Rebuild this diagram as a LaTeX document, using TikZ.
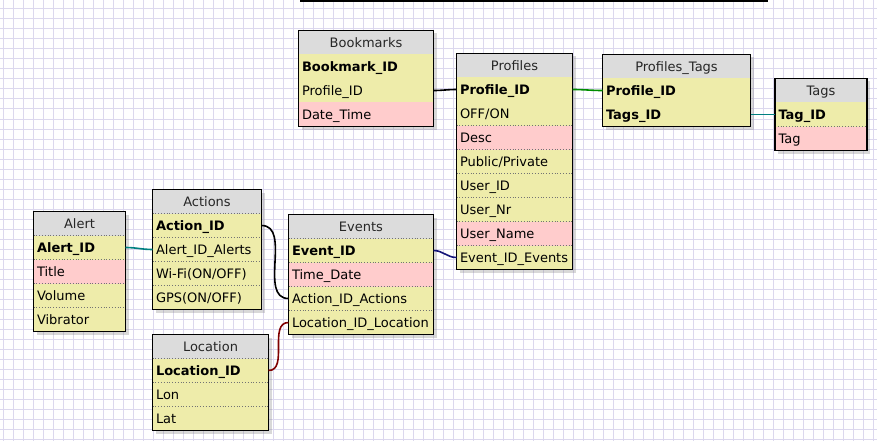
\documentclass[tikz,border=0pt]{standalone}
\usepackage{fontspec}
\setmainfont{DejaVu Sans}
\usetikzlibrary{shadows}

\definecolor{headgray}{RGB}{220,220,220}
\definecolor{fieldyellow}{RGB}{238,236,170}
\definecolor{optpink}{RGB}{255,204,204}
\definecolor{gridlav}{RGB}{220,216,238}
\definecolor{linkgreen}{RGB}{0,140,0}
\definecolor{linkteal}{RGB}{0,128,128}
\definecolor{linknavy}{RGB}{20,20,120}
\definecolor{linkred}{RGB}{128,0,0}

\tikzset{
  gridline/.style={draw=gridlav, line width=1pt},
  tblframe/.style={anchor=north west, inner sep=0pt, outer sep=0pt, fill=white,
    drop shadow={shadow xshift=3pt, shadow yshift=-3pt, opacity=0.3}},
  tblsep/.style={draw=black!55, dotted, line width=0.8pt},
  tblcell/.style={anchor=north west, minimum height=24pt, inner xsep=3.5pt, inner ysep=0pt,
    outer sep=0pt, text height=9.5pt, text depth=0pt, align=left,
    font=\fontsize{13pt}{15pt}\selectfont,
    append after command={(\tikzlastnode.south west) edge[tblsep] (\tikzlastnode.south east)}},
  tblhead/.style={tblcell, fill=headgray, align=center, text=black!85},
  tblkey/.style={tblcell, fill=fieldyellow, font=\fontsize{13pt}{15pt}\selectfont\bfseries},
  tblfield/.style={tblcell, fill=fieldyellow},
  tblopt/.style={tblcell, fill=optpink},
  tblborder/.style={draw=black, line width=1.3pt},
}

\begin{document}
\begin{tikzpicture}[x=1pt, y=-1pt]

\useasboundingbox (0,0) rectangle (877,441);
\fill[white] (0,0) rectangle (877,441);
\foreach \x in {3,13,...,873} \draw[gridline] (\x,0) -- (\x,441);
\foreach \y in {9,19,...,439} \draw[gridline] (0,\y) -- (877,\y);

\draw[line width=1.6pt] (300,0.8) -- (768,0.8);

% Bookmarks
\begin{scope}[every node/.append style={text width=128pt}]
  \node[tblframe, minimum width=135pt, minimum height=96pt] (bm) at (298.5,30.5) {};
  \node[tblhead]  (bm-h)   at (bm.north west)     {Bookmarks};
  \node[tblkey]   (bm-id)  at (bm-h.south west)   {Bookmark\_ID};
  \node[tblfield] (bm-pid) at (bm-id.south west)  {Profile\_ID};
  \node[tblopt]   (bm-dt)  at (bm-pid.south west) {Date\_Time};
\end{scope}

% Profiles
\begin{scope}[every node/.append style={text width=109pt}]
  \node[tblframe, minimum width=116pt, minimum height=216pt] (pr) at (456.5,53.5) {};
  \node[tblhead]  (pr-h)   at (pr.north west)     {Profiles};
  \node[tblkey]   (pr-id)  at (pr-h.south west)   {Profile\_ID};
  \node[tblfield] (pr-on)  at (pr-id.south west)  {OFF/ON};
  \node[tblopt]   (pr-ds)  at (pr-on.south west)  {Desc};
  \node[tblfield] (pr-pp)  at (pr-ds.south west)  {Public/Private};
  \node[tblfield] (pr-uid) at (pr-pp.south west)  {User\_ID};
  \node[tblfield] (pr-unr) at (pr-uid.south west) {User\_Nr};
  \node[tblopt]   (pr-unm) at (pr-unr.south west) {User\_Name};
  \node[tblfield] (pr-eid) at (pr-unm.south west) {Event\_ID\_Events};
\end{scope}

% Profiles_Tags
\begin{scope}[every node/.append style={text width=141pt}]
  \node[tblframe, minimum width=148pt, minimum height=72pt] (pt) at (602.5,54.5) {};
  \node[tblhead] (pt-h)   at (pt.north west)     {Profiles\_Tags};
  \node[tblkey]  (pt-pid) at (pt-h.south west)   {Profile\_ID};
  \node[tblkey]  (pt-tid) at (pt-pid.south west) {Tags\_ID};
\end{scope}

% Tags
\begin{scope}[every node/.append style={text width=85pt}]
  \node[tblframe, minimum width=92pt, minimum height=72pt] (tg) at (775,78.5) {};
  \node[tblhead] (tg-h)  at (tg.north west)    {Tags};
  \node[tblkey]  (tg-id) at (tg-h.south west)  {Tag\_ID};
  \node[tblopt]  (tg-tg) at (tg-id.south west) {Tag};
\end{scope}

% Alert
\begin{scope}[every node/.append style={text width=85pt}]
  \node[tblframe, minimum width=92pt, minimum height=120pt] (al) at (33.5,211.5) {};
  \node[tblhead]  (al-h)  at (al.north west)    {Alert};
  \node[tblkey]   (al-id) at (al-h.south west)  {Alert\_ID};
  \node[tblopt]   (al-tt) at (al-id.south west) {Title};
  \node[tblfield] (al-vl) at (al-tt.south west) {Volume};
  \node[tblfield] (al-vb) at (al-vl.south west) {Vibrator};
\end{scope}

% Actions
\begin{scope}[every node/.append style={text width=102pt}]
  \node[tblframe, minimum width=109pt, minimum height=120pt] (ac) at (152.5,189.5) {};
  \node[tblhead]  (ac-h)   at (ac.north west)     {Actions};
  \node[tblkey]   (ac-id)  at (ac-h.south west)   {Action\_ID};
  \node[tblfield] (ac-aid) at (ac-id.south west)  {Alert\_ID\_Alerts};
  \node[tblfield] (ac-wf)  at (ac-aid.south west) {Wi-Fi(ON/OFF)};
  \node[tblfield] (ac-gps) at (ac-wf.south west)  {GPS(ON/OFF)};
\end{scope}

% Events
\begin{scope}[every node/.append style={text width=138pt}]
  \node[tblframe, minimum width=145pt, minimum height=120pt] (ev) at (288.5,214.5) {};
  \node[tblhead]  (ev-h)   at (ev.north west)     {Events};
  \node[tblkey]   (ev-id)  at (ev-h.south west)   {Event\_ID};
  \node[tblopt]   (ev-td)  at (ev-id.south west)  {Time\_Date};
  \node[tblfield] (ev-aid) at (ev-td.south west)  {Action\_ID\_Actions};
  \node[tblfield] (ev-lid) at (ev-aid.south west) {Location\_ID\_Location};
\end{scope}

% Location
\begin{scope}[every node/.append style={text width=109pt}]
  \node[tblframe, minimum width=116pt, minimum height=96pt] (lo) at (152.5,334.5) {};
  \node[tblhead]  (lo-h)   at (lo.north west)     {Location};
  \node[tblkey]   (lo-id)  at (lo-h.south west)   {Location\_ID};
  \node[tblfield] (lo-lon) at (lo-id.south west)  {Lon};
  \node[tblfield] (lo-lat) at (lo-lon.south west) {Lat};
\end{scope}

\begin{scope}[tblborder]
\draw (bm.north west) rectangle (bm.south east);
\draw (pr.north west) rectangle (pr.south east);
\draw (pt.north west) rectangle (pt.south east);
\draw (tg.north west) rectangle (tg.south east);
\draw (al.north west) rectangle (al.south east);
\draw (ac.north west) rectangle (ac.south east);
\draw (ev.north west) rectangle (ev.south east);
\draw (lo.north west) rectangle (lo.south east);
\end{scope}

\begin{scope}[line width=1.6pt, out=0, in=180]
\path[black]     (bm-pid.east) edge (pr-id.west);
\path[linkgreen] (pr-id.east)  edge (pt-pid.west);
\path[linkteal]  (pt-tid.east) edge (tg-id.west);
\path[linkteal]  (al-id.east)  edge (ac-aid.west);
\path[black]     (ac-id.east)  edge (ev-aid.west);
\path[linkred]   (lo-id.east)  edge (ev-lid.west);
\path[linknavy]  (ev-id.east)  edge (pr-eid.west);
\end{scope}

\end{tikzpicture}
\end{document}
